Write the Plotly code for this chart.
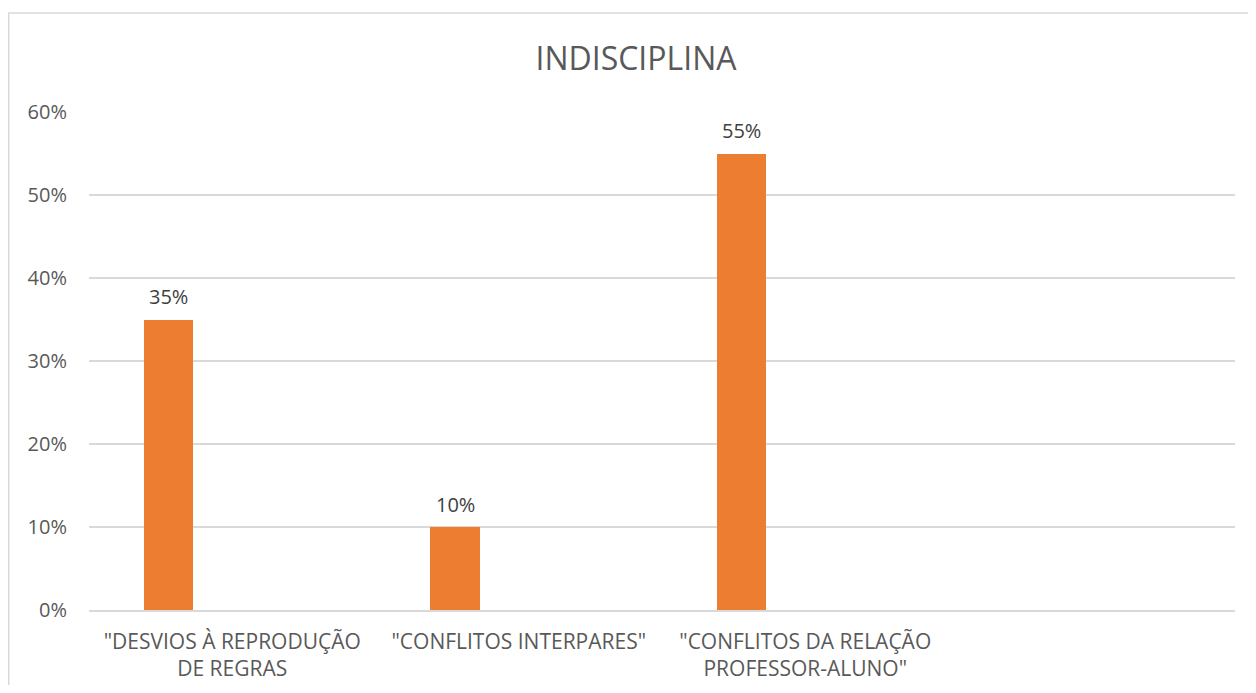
import plotly.graph_objects as go

categories = ["\"DESVIOS À REPRODUÇÃO<br>DE REGRAS",
              "\"CONFLITOS INTERPARES\"",
              "\"CONFLITOS DA RELAÇÃO<br>PROFESSOR-ALUNO\""]
values = [0.35, 0.10, 0.55]
value_labels = ["35%", "10%", "55%"]
y_ticks = [0, 0.1, 0.2, 0.3, 0.4, 0.5, 0.6]
y_tick_labels = ["0%", "10%", "20%", "30%", "40%", "50%", "60%"]

W, H = 1240, 677
L, R, T, B = 81, 13, 104, 75
pw, ph = W - L - R, H - T - B

BAR_W, BAR_OFF = 0.173, -0.309
cat_px = pw / 4.0
label_xshift = (BAR_OFF + BAR_W / 2) * cat_px

fig = go.Figure()
fig.add_trace(go.Bar(
    x=categories, y=values,
    marker=dict(color="#ED7D31", line=dict(width=0)),
    width=BAR_W, offset=BAR_OFF,
    cliponaxis=False, hoverinfo="x+y",
))

annotations = [
    dict(x=c, y=v, xref="x", yref="y", text=t, showarrow=False,
         xanchor="center", yanchor="middle", xshift=label_xshift, yshift=23,
         font=dict(family="Open Sans", size=20, color="#404040"))
    for c, v, t in zip(categories, values, value_labels)
]

fig.update_layout(
    width=W, height=H,
    margin=dict(l=L, r=R, t=T, b=B, autoexpand=False),
    paper_bgcolor="white", plot_bgcolor="white",
    showlegend=False,
    title=dict(text="INDISCIPLINA", x=(628 - L) / pw, xref="paper", xanchor="center",
               y=1 - 51 / H, yanchor="middle",
               font=dict(family="Open Sans", size=32, color="#595959")),
    xaxis=dict(type="category", categoryorder="array", categoryarray=categories,
               range=[-0.5, 3.5], showgrid=False, showline=True, automargin=False,
               linecolor="#d9d9d9", linewidth=1.5, ticks="", ticklabelstandoff=12,
               tickfont=dict(family="Open Sans", size=21, color="#595959")),
    yaxis=dict(range=[0, 0.6], tickvals=y_ticks, ticktext=y_tick_labels,
               showgrid=True, gridcolor="#d9d9d9", gridwidth=1.5, automargin=False,
               zeroline=False, showline=False, ticks="", ticklabelstandoff=21,
               tickfont=dict(family="Open Sans", size=20, color="#595959")),
    annotations=annotations,
    shapes=[
        dict(type="line", xref="paper", yref="paper",
             x0=(0.75 - L) / pw, x1=(0.75 - L) / pw, y0=(H - B - 5) / ph, y1=-0.3,
             line=dict(color="#d9d9d9", width=1.5)),
        dict(type="line", xref="paper", yref="paper",
             x0=(0 - L) / pw, x1=1.1, y0=(H - B - 5) / ph, y1=(H - B - 5) / ph,
             line=dict(color="#d9d9d9", width=1.5)),
    ],
    bargap=0,
)
fig.write_html("out.html")
